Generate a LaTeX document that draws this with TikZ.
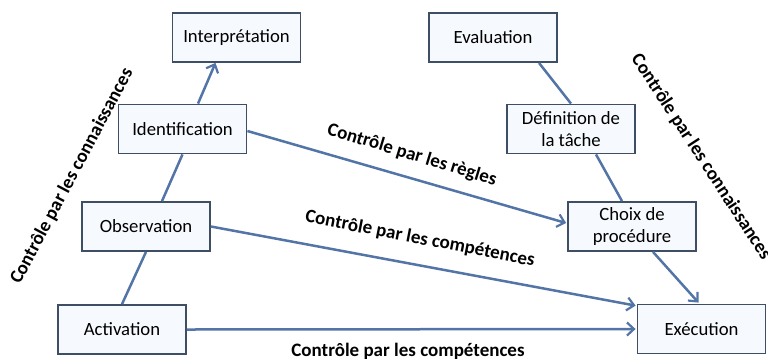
\documentclass[tikz,border=0pt]{standalone}
\usepackage{fontspec}
\setmainfont{Carlito}
\usetikzlibrary{arrows.meta,calc}
\definecolor{boxline}{RGB}{62,78,100}
\definecolor{boxfill}{RGB}{246,249,253}
\definecolor{conn}{RGB}{82,116,166}
\tikzset{
  box/.style={draw=boxline, line width=1.8pt, fill=boxfill, minimum width=128pt, minimum height=49pt, inner sep=2pt, align=center, font=\fontsize{18.7}{22}\selectfont},
  link/.style={draw=conn, line width=2.5pt},
  arr/.style={link, -{Straight Barb[length=7pt,width=13pt,line width=2.2pt]}},
  lbl/.style={font=\bfseries\fontsize{19}{22}\selectfont, inner sep=0pt}
}
\begin{document}
\begin{tikzpicture}[x=1pt,y=-1pt]
\useasboundingbox (0,0) rectangle (768,360);
\node[box] (interp) at (236.5,37.5) {Interprétation};
\node[box] (ident) at (182.5,129) {Identification};
\node[box] (eval) at (493,37.5) {Evaluation};
\node[box] (def) at (571,129) {Définition de\\la tâche};
\node[box] (obs) at (146,226.5) {Observation};
\node[box] (act) at (122,329.5) {Activation};
\node[box] (choix) at (632,226.5) {Choix de\\procédure};
\node[box] (exec) at (701.5,329) {Exécution};

\draw[arr] ([xshift=15.5pt]ident.north) -- ([xshift=-21pt]interp.south);
\draw[link] ([xshift=16pt]obs.north) -- (ident.south);
\draw[link] (act.north) -- (obs.south);
\draw[arr] ([yshift=-2pt]ident.east) -- ([yshift=3.5pt,xshift=-1pt]choix.west);
\draw[arr] (obs.east) -- ([yshift=-2pt,xshift=-1pt]exec.north west);
\draw[arr] (act.east) -- ([xshift=-1pt]exec.west);
\draw[link] ([xshift=46pt]eval.south) -- (def.north);
\draw[link] ([xshift=25pt]def.south) -- ([xshift=-10pt]choix.north);
\draw[arr] ([xshift=21pt]choix.south) -- ([xshift=-3pt,yshift=1pt]exec.north);

\node[lbl, rotate=62] (lk) at (72,176) {Contrôle par les connaissances};
\node[lbl, rotate=-57] (rk) at (701,157) {Contrôle par les connaissances};
\node[lbl, rotate=-17] (lr) at (412,155) {Contrôle par les règles};
\node[lbl, rotate=-11] (lc1) at (420,239) {Contrôle par les compétences};
\node[lbl] (lc2) at (408,351) {Contrôle par les compétences};
\end{tikzpicture}
\end{document}
